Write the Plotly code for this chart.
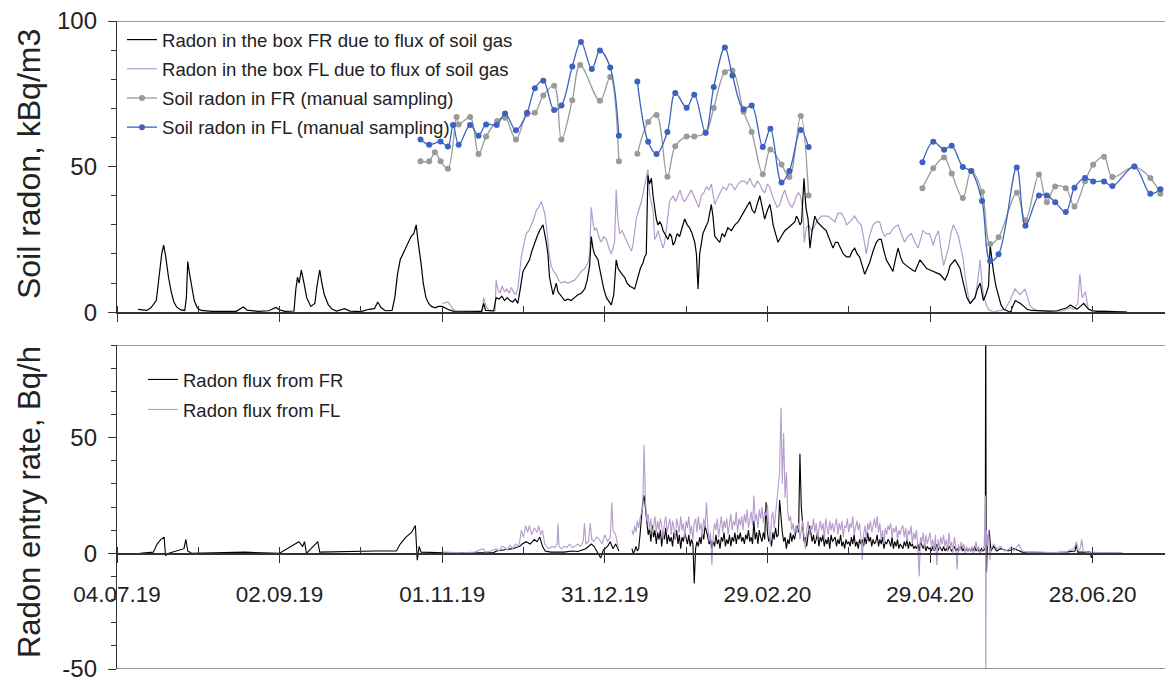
import pandas as pd
import plotly.graph_objects as go

BASE = pd.Timestamp("2019-07-04")

# ---------------- top panel: radon in the boxes (kBq/m3) ----------------
fr_box_day = [7.8, 9.5, 11, 12.5, 13.4, 14.5, 15.5, 16.5, 17.2, 18, 19, 20, 21, 22, 23.5, 25, 25.6, 26.1, 26.8, 27.6,
              28.5, 29.6, 31, 35, 40, 44, 46.6, 48, 52, 56, 58.6, 60, 62, 65.3, 66, 66.6, 67.2, 68, 69, 70,
              71.5, 73, 73.8, 74.8, 75.6, 76.5, 78, 79.5, 81, 84, 86, 90, 93, 95, 96.2, 97.5, 99, 101.5, 102.5, 103.5,
              104.5, 105.5, 106.5, 107.5, 108.5, 109.5, 110.4, 111, 111.5, 112.3, 113, 114, 115, 116, 117.5, 118.5, 120, 121, 122, 124,
              130, 134.5, 135.3, 136, 139, 139.9, 141, 142, 143, 144, 145, 146, 147, 147.9, 148.8, 149.8, 151, 152.2, 153.1, 154.1,
              155, 155.9, 156.6, 157.2, 158.4, 159, 159.6, 160.3, 160.9, 161.5, 162.1, 162.7, 163.5, 164.3, 165.2, 166.4, 167.6, 168.8, 170.1, 171.3,
              172.6, 173.5, 174.4, 175, 175.6, 176.2, 177, 177.5, 178.1, 178.7, 179.6, 180.6, 181.5, 182.4, 183.3, 184.2, 184.9, 185.5, 186.4, 187.3,
              188.2, 189.2, 190.1, 191, 191.6, 192.2, 193.1, 194.1, 194.7, 195.3, 195.9, 196.5, 197.2, 197.8, 198.4, 199, 199.6, 200.3, 200.9, 201.5,
              202.1, 202.7, 203.3, 204, 204.6, 205.2, 205.8, 206.7, 207.6, 208.5, 209.5, 210.4, 211.3, 212.2, 213.2, 213.8, 214.4, 215, 215.6, 216.2,
              217.1, 218.1, 218.7, 219.3, 219.9, 220.6, 221.5, 222.4, 223.3, 224.2, 225.4, 226.7, 228, 229.2, 230.4, 231.6, 232.5, 233.5, 234.4, 235.3,
              236.2, 237.2, 238.1, 239, 240, 240.9, 241.5, 242.1, 243, 243.9, 245.1, 246.4, 247.7, 248.9, 250.1, 250.7, 251.3, 252, 252.6, 253.5,
              254.2, 255, 255.7, 256.5, 257.5, 258.4, 259.3, 260.5, 261.7, 263, 264.2, 265.1, 266, 267, 268, 269.2, 270.4, 271.3, 272.2, 273.1,
              274, 275, 275.9, 276.8, 277.7, 279, 280.2, 281.1, 282, 283, 283.9, 285.1, 286.3, 287.2, 288.2, 289.1, 290, 291.3, 292.6, 293.5,
              294.5, 295.4, 296.3, 297.5, 298.8, 300, 301.2, 302.5, 303.7, 304.6, 305.5, 306.5, 307.4, 308.3, 309.2, 310.2, 311.1, 312.3, 313.6, 314.8,
              315.7, 316.6, 317.5, 318.5, 319.1, 319.7, 320.6, 321.6, 322.2, 322.8, 323.4, 324.3, 325.3, 326.2, 327.2, 328.5, 329.7, 330.5, 331.5, 332.4,
              333.4, 334.6, 335.8, 337.5, 339.5, 344, 347, 349.3, 350.5, 351.8, 353, 354.2, 355.5, 356.7, 357.6, 358.5, 360, 361.6, 365, 367.8, 372.7]
fr_box_val = [1.0, 0.8, 0.6, 1.5, 2.5, 4, 12, 20, 23, 19, 12, 7, 3.5, 1.8, 0.8, 0.6, 5, 17.4, 13, 8,
              4, 1.5, 0.6, 0.3, 0.4, 0.3, 1.8, 0.7, 0.3, 0.5, 1.6, 0.8, 0.3, 0.4, 8, 12, 10, 14.5, 10, 5,
              2, 3, 9, 14.5, 10, 6, 2.5, 1, 0.4, 1.2, 0.4, 0.2, 1, 1.2, 3.5, 1.5, 0.5, 0.6, 5, 13,
              18, 20, 22, 24, 26, 27, 30, 25, 22, 16, 10, 5, 3, 2, 1.5, 2, 2, 1.5, 1, 0.4,
              0.2, 0.3, 3, 0.6, 0.5, 5, 4.5, 5.5, 4, 5, 4, 3.5, 4.5, 3, 8, 14, 16, 18, 21, 24,
              26, 28, 29, 30, 24, 20, 12, 8, 6, 8, 10, 7, 6, 5, 4, 4.5, 4, 5, 6, 6.5,
              8, 11, 16, 26, 22, 20, 19, 18, 15, 12, 8, 5, 3.5, 2.5, 6, 18, 15, 14, 13, 12,
              10, 9, 8.5, 8, 10, 12, 15, 17, 19, 20, 47, 44, 46, 40, 36, 32, 30, 31, 30, 28,
              27, 26, 25, 27, 26, 23, 24, 27, 26, 29, 32, 30, 29, 27, 24, 20, 8, 20, 24, 27,
              29, 31, 34, 37, 33, 26, 25, 24, 27, 26, 29, 28, 30, 31, 33, 35, 36, 38, 35, 34,
              37, 40, 36, 32, 35, 37, 34, 30, 27, 24, 26, 28, 29, 30, 31, 33, 32, 30, 31, 46,
              36, 32, 22, 28, 33, 31, 30, 29, 28, 25, 22, 24, 24, 22, 20, 19, 19, 21, 22, 20,
              19, 16, 13, 15, 17, 21, 24, 25, 25, 21, 18, 16, 14, 18, 22, 19, 17, 16, 15, 14.5,
              14, 16, 18, 16.5, 15, 14.5, 14, 13.5, 13, 12, 11, 13, 16, 17, 18, 16.5, 15, 10, 5, 3,
              4, 5, 8, 10, 7, 4, 6, 9, 23, 18, 14, 9, 5, 2.5, 1, 0.4, 0, 2, 4, 3.5,
              3, 2, 1, 0.6, 0.5, 0.4, 0.5, 1, 1.5, 2.5, 1.8, 1, 2, 3, 2, 1, 0.5, 0.3, 0.3, 0.2, 0]

fl_box_day = [120, 121, 122.1, 123.3, 124.9, 126, 130, 134, 134.8, 135.3, 136.2, 137.3, 138.4, 139.5, 139.9, 140.5, 141.3, 142.1, 143, 143.8,
              144.6, 145.5, 146.3, 147.1, 147.9, 148.6, 149.2, 149.8, 150.4, 151, 152, 152.9, 153.8, 154.7, 155.6, 156.6, 157.2, 157.8, 158.4, 159,
              159.6, 160.2, 161.1, 162.1, 163, 163.9, 165.1, 166.4, 167.6, 168.9, 170.1, 171.3, 172.6, 173.8, 174.4, 175, 175.6, 176.2, 176.9, 177.5,
              178.1, 178.7, 179.6, 180.6, 181.5, 182.4, 183, 183.6, 184.2, 184.8, 185.5, 186.4, 187.3, 188.2, 189.2, 189.8, 190.4, 191, 191.6, 192.5,
              193.5, 194.4, 195.3, 195.9, 196.6, 197.2, 197.8, 198.4, 199, 199.6, 200.5, 201.5, 202.1, 202.7, 203.3, 203.9, 204.6, 205.2, 206.1, 207,
              207.8, 208.6, 209.5, 210.7, 211.9, 212.8, 213.8, 214.7, 215.6, 216.5, 217.5, 218.4, 219.3, 219.9, 220.6, 221.5, 222.4, 223.6, 224.9, 225.8,
              226.7, 228, 229.2, 230.4, 231.6, 232.5, 233.5, 234.4, 235.3, 236.2, 237.2, 238.1, 239, 240, 240.9, 241.8, 242.7, 243.6, 244.6, 245.5,
              246.4, 247.3, 248.2, 249.1, 250.1, 250.7, 251.5, 252.2, 253.1, 253.6, 254.4, 255.3, 256.2, 257.2, 258.1, 258.9, 259.9, 261.1, 262.4, 263.6,
              264.9, 266, 267.3, 268.5, 269.2, 270.4, 271.3, 272.2, 273.4, 274.6, 275.6, 276.5, 277.6, 279, 280.2, 281.4, 282.3, 283.3, 284.2, 285.1,
              286.6, 288.2, 289.4, 290.6, 291.8, 293.1, 294.4, 295.6, 296.5, 297.4, 298.6, 299.8, 300.5, 301.2, 302.1, 303.1, 304, 305, 305.9, 306.8,
              307.7, 308.6, 309.6, 310.5, 311.4, 312.3, 313, 313.6, 314.2, 314.8, 315.7, 316.6, 317.5, 318.5, 319.1, 319.7, 320.6, 321.6, 322.5, 323.4,
              324.3, 325.3, 326.5, 327.7, 329.5, 330.4, 331.4, 332.3, 333.2, 334.1, 335.1, 336, 337, 338.5, 340, 345, 349.3, 350.5, 351.8, 353,
              354.5, 355.3, 355.7, 356.1, 356.8, 357.4, 358, 358.5, 360, 364, 368, 370, 372.7]
fl_box_val = [3, 3.2, 3.5, 2, 0, -0.3, -0.4, -0.3, 0.2, 5, 2, 0.5, 0, 0.5, 11, 8, 6.5, 9, 7, 8,
              6.5, 8.5, 7, 6, 8, 15, 19, 22, 25, 27, 28, 30, 32, 35, 36, 38, 36, 34, 30, 24,
              19, 16, 14, 13, 11, 10, 10.5, 10, 10.5, 11, 12.5, 14, 15, 17, 20, 36, 31, 28, 29, 27,
              25, 24, 26, 25, 22, 20, 22, 24, 42, 32, 27, 28, 26, 24, 22, 21, 23, 27, 32, 35,
              38, 42, 46, 49, 40, 37, 35, 25, 26, 28, 25, 22, 24, 28, 33, 38, 39, 40, 38, 40,
              42, 39, 38, 40, 42, 40, 38, 36, 40, 41, 43, 42, 44, 41, 37, 39, 41, 43, 42, 44,
              44, 42, 44, 45, 45, 44, 46, 44, 43, 45, 44, 42, 41, 44, 43, 40, 38, 36, 37, 40,
              42, 39, 37, 36, 38, 40, 41, 40, 35, 24, 29, 30, 28, 29, 31, 32, 33, 33, 33, 32,
              31, 34, 34, 32, 30, 31, 32, 33, 31, 30, 25, 20, 26, 30, 31, 31, 28, 26, 27, 27,
              29, 30, 27, 24, 26, 27, 24, 22, 25, 28, 27, 27, 25, 23, 26, 28, 22, 16, 19, 22,
              27, 30, 28, 26, 22, 18, 12, 8, 5, 3, 4, 5, 10, 18, 11, 6, 3, 1, 0.5, 0,
              0.3, 0.5, 0.8, 1, 4, 6, 8, 7, 6, 7, 8, 5, 2, 1, 0.5, 0.3, 0.5, 1, 1.5, 1,
              3, 13, 9, 5, 6, 7, 3, 1, 0.5, 0.4, 0.5, 0.2, 0]

# ---------------- top panel: manual soil-gas sampling (kBq/m3) ----------------
fr_soil_day = [112.0, 115.2, 117.3, 119.4, 122.1, 125.3, 126.1, 130.3, 133.4, 136.2, 140.3, 143.2, 147.2, 151.3, 154.2, 157.3, 161.3, 164.0,
               168.0, 170.9, 178.2, 182.0, 185.2, None,
               192.0, 196.0, 199.1, 203.1, 206.0, 210.2, 213.0, 217.2, 220.2, 224.3, 227.1, 231.2, 234.2, 238.3, 241.1, 245.2, 248.1, 252.3, 255.2, None,
               297.2, 301.2, 305.2, 308.0, 312.1, 315.2, 319.2, 322.2, 325.3, 332.0, 335.2, 340.2, 343.1, 346.2, 350.1, 353.3, 357.2, 360.2,
               364.2, 367.3, 375.4, 381.3, 385.0]
fr_soil_val = [51.8, 51.8, 54.9, 51.8, 49.3, 67.0, 64.5, 67.0, 54.3, 60.3, 65.7, 66.8, 59.3, 68.0, 68.5, 74.4, 77.8, 59.3,
               72.8, 84.9, 72.6, 80.8, 51.8, None,
               54.4, 65.3, 67.7, 46.5, 57.0, 60.3, 60.3, 61.6, 70.1, 82.4, 83.0, 68.8, 61.9, 47.4, 55.9, 50.7, 46.4, 67.4, 40.1, None,
               42.6, 49.4, 53.1, 47.6, 39.2, 48.5, 41.3, 23.4, 25.7, 41.0, 31.6, 47.3, 37.8, 43.2, 42.6, 36.3, 45.0, 50.6,
               53.4, 46.4, 50.0, 46.1, 40.7]

fl_soil_day = [112.0, 115.2, 119.4, 122.1, 124.0, 126.1, 130.3, 133.4, 136.2, 140.1, 143.2, 147.2, 151.3, 154.2, 157.3, 161.3, 164.0,
               168.0, 171.2, 175.2, 178.2, 182.0, 185.2, None,
               192.0, 196.0, 199.1, 203.1, 206.0, 210.2, 213.0, 217.2, 220.2, 224.3, 227.1, 231.2, 234.2, 238.3, 241.1, 245.2, 248.1, 252.3, 255.2, None,
               297.2, 301.2, 305.2, 308.0, 312.1, 315.2, 319.2, 322.2, 325.3, 332.0, 335.2, 340.2, 343.1, 346.2, 350.1, 353.3, 357.2, 360.2,
               364.2, 367.3, 375.4, 381.3, 385.0]
fl_soil_val = [59.3, 57.5, 58.6, 56.9, 64.3, 57.5, 64.3, 60.6, 64.5, 64.3, 68.2, 62.5, 68.5, 76.9, 79.5, 69.4, 71.0,
               84.4, 92.8, 83.5, 89.9, 84.0, 60.6, None,
               79.2, 58.5, 54.3, 61.9, 75.3, 70.2, 74.7, 61.6, 77.3, 90.9, 81.3, 69.7, 71.0, 56.7, 63.0, 44.5, 48.5, 62.6, 56.7, None,
               51.5, 58.5, 55.8, 57.2, 49.9, 48.5, 38.2, 17.6, 19.9, 49.7, 29.7, 40.1, 40.1, 37.8, 34.4, 42.7, 46.1, 44.9,
               44.9, 43.3, 50.0, 40.7, 42.2]

# ---------------- bottom panel: radon entry rate (Bq/h) ----------------
# FR flux: early part (irregular sampling), dense part (every half day from day 190), late part
fr_flux_day_a = [8.5, 13.4, 14.8, 16.2, 17.4, 17.9, 19.1, 24.7, 25.4, 26.1, 27.5, 47.3, 60, 67.1, 68.5, 69.2, 69.9, 74.1, 74.8, 90.4,
                 95.3, 103.1, 104.5, 106.6, 108.7, 110.1, 110.8, 111.5, 112.2, 120.4, 130, 139, 140, 143, 146, 148.6, 149.5, 151, 152.5, 154,
                 155, 156, 157, 158, 160, 165, 168, 170, 173, 175, 176, 178.5, 179.5, 181, 182, 183, 184, 185.2, None]
fr_flux_val_a = [0, 0.5, 4, 6, 7, -1, 0, 2, 6, 1, 0, 0.5, 0, 5, 3, 5, 0, 5, 0.5, 1,
                 1, 1, 4, 7, 9, 12, -3, 3, 0.5, 0.2, 0.1, 0.3, 1, 1.5, 2, 3, 4, 5, 4, 6,
                 5, 7, 3, 1, 0.5, 0.5, 1, 0.8, 2, 4, 3, -2, 1.5, 3, 5, 2, 4, 1, None]
fr_flux_dense_start = 190.0
fr_flux_val_b = [2, 0, 1, 3, 1, 2, 8, 15, 22, 25,
                 20, 14, 8, 11, 5, 12, 7, 10, 4, 9,
                 6, 10, 3, 9, 6, 11, 4, 8, 5, 7,
                 3, 9, 6, 10, 4, 8, 2, 7, 5, 9,
                 7, 4, 8, 3, 6, 4, -13, 2, 5, 3,
                 7, 4, 9, 6, 12, 10, 7, 4, 6, 2,
                 5, 3, 8, 4, 6, 2, 7, 5, 9, 3,
                 6, 4, 8, 3, 7, 5, 9, 4, 8, 6,
                 9, 5, 7, 4, 8, 6, 10, 5, 7, 4,
                 14, 6, 9, 4, 10, 7, 5, 9, 6, 22,
                 9, 5, 7, 3, 9, 6, 11, 7, 8, 23,
                 14, 9, 5, 7, 2, 6, 4, 9, 5, 8,
                 6, 10, 12, 9, 43, 20, 10, 5, 7, 3,
                 8, 12, 9, 5, 8, 4, 6, 9, 3, 7,
                 5, 8, 3, 6, 4, 7, 2, 8, 5, 6,
                 7, 3, 6, 4, 8, 3, 5, 2, 6, 4,
                 5, 3, 7, 4, 8, 3, 5, 2, 6, 4,
                 6, 3, 7, 4, 9, 5, 7, 3, 6, 4,
                 5, 8, 3, 6, 4, 7, 2, 5, 4, 6,
                 5, 3, 7, 2, 5, 3, 6, 2, 4, 3,
                 2, 5, 3, 6, 2, 5, 3, 4, 2, 3,
                 2, 4, 1, 5, 3, 2, 4, 1, 3, 2,
                 2, 1, 3, 1, 2, 4, 1, 3, 2, 1,
                 3, 1, 2, 1, 3, 2, 1, 2, 3, 1,
                 2, 1, 2, 3, 1, 2, 1, 2, 1, 2,
                 1, 2, 1, 3, 1, 2, 1, 1, 2, 1]
fr_flux_day_c = [320.4, 320.55, 320.7, 320.85, 321.2, 321.8, 322.5, 323.5, 324.6, 326, 328.8, 331, 334, 338, 345, 350, 353.5, 354,
                 354.5, 356, 359, 359.6, 360.2, 365, 371]
fr_flux_val_c = [2, 120, 11, -8, 5, 10, 1, 3, 1, 2, 1, 2, 0.5, 0.3, 0.2, 0.5, 1, 4,
                 0.5, 0.5, 0.5, -2, 0.3, 0.1, 0]

# FL flux
fl_flux_day_a = [120.4, 124, 128, 132, 135, 136, 138, 140, 141, 142, 143, 144, 145, 146, 147, 148, 148.6, 149.2, 150, 150.8,
                 151.5, 152.2, 153, 154, 155, 155.6, 156.3, 157, 157.8, 158.5, 159.5, 160.5, 161.5, 162.4, 162.7, 163.1, 164, 165, 166, 167,
                 168, 169, 170, 171, 172, 172.5, 173, 174, 174.6, 175.2, 176, 177, 178, 179, 180, 181, 182, 182.6, 183, 184,
                 185, None]
fl_flux_val_a = [0.5, 0.3, 0.2, 0.5, 2, 0.5, 1, 2, 1, 3, 2.5, 1.5, 3.5, 2, 4, 3, 5, 10, 7, 12,
                 9, 12, 8, 11, 9, 12, 8, 10, 4, 3, 2, 3, 2.5, 4, 13, 3, 2, 3, 2.5, 4,
                 2.5, 3, 4, 3, 5, 13, 4, 5, 13, 6, 5, 7, 6, 4, 8, 5, 7, 22, 10, 8,
                 2, None]
fl_flux_dense_start = 190.0
fl_flux_val_b = [10, 8, 12, 9, 14, 11, 15, 18, 20, 47,
                 22, 14, 17, 10, 15, 8, 13, 16, 9, 14,
                 10, 15, 12, 6, 13, 16, 9, 12, 15, 8,
                 14, 11, 6, 15, 12, 9, 16, 10, 13, 7,
                 14, 11, 16, 8, 12, 6, 13, 15, 9, 16,
                 10, 13, 7, 15, 11, 22, 12, 5, 9, -5,
                 8, 13, 10, 15, 7, 12, 16, 9, 14, 11,
                 15, 8, 13, 17, 10, 14, 12, 18, 9, 15,
                 12, 16, 10, 17, 13, 19, 11, 15, 18, 12,
                 25, 14, 17, 11, 19, 15, 20, 13, 18, 16,
                 21, 12, 4, 15, 18, 11, 17, 20, 26, 35,
                 63, 30, 52, 24, 35, 18, 14, 16, 10, 13,
                 8, 12, 9, 13, 6, 11, 14, 7, 2, 10,
                 14, 8, 12, 10, 15, 9, 13, 7, 11, 14,
                 10, 13, 6, 15, 11, 8, 14, 10, 13, 9,
                 12, 15, 8, 13, 10, 14, 7, 12, 11, 15,
                 9, 13, 11, 16, 8, 12, 14, 10, 13, 7,
                 -3, 8, 12, 6, 13, 10, 14, 9, 12, 15,
                 11, 16, 9, 13, 6, 10, 4, 11, 8, 12,
                 10, 13, 7, 11, 9, 12, 6, 10, 8, 11,
                 12, 7, 11, 5, 10, 8, 12, 4, 9, 6,
                 10, 3, -10, 7, 5, 9, 2, 8, 4, 7,
                 9, 3, 6, 1, 8, -5, 6, 2, 7, 4,
                 8, 3, 6, 1, 9, 2, 5, 0, 7, 3,
                 -7, 4, 1, 5, 2, 4, 0, 3, 1, 2,
                 1, 3, 0, 2, 5, 1, 3, 0, 1, 2]
fl_flux_day_c = [320.0, 320.45, 320.6, 320.75, 321.3, 321.6, 322.1, 322.5, 323.5, 324.6, 326, 327.5, 328.8, 330, 331, 332.8, 334, 336,
                 341, 345, 350, 353, 353.5, 354, 354.6, 355.4, 356, 356.5, 358, 365, 371]
fl_flux_val_c = [3, 25, -60, 10, 3, 10, -3, 2, 4, 2, 3, 1, 1.5, 3, 1, 4, 1, 0.5,
                 0.5, 0.3, 0.5, 2, 3, 5, 1, 2, 6, 1, 0.5, 0.3, 0]

# ---------------- axis labels / ticks ----------------
X_START = "2019-07-04"
X_END = "2020-07-24 17:00"
TOP_YTICKS = [0, 50, 100]
TOP_YTEXT = ["0", "50", "100"]
BOT_YTICKS = [-50, 0, 50]
BOT_YTEXT = ["-50", "0", "50"]
TITLE_TOP = "Soil radon, kBq/m3"
TITLE_BOT = "Radon entry rate, Bq/h"

FONT = "Liberation Sans, Arial, Helvetica, sans-serif"
TXT = "#222222"
BLACK = "#000000"
PURPLE = "#b49ccd"
GRAY = "#9a9a9a"
BLUE = "#3d62be"


def to_dates(days):
    return [None if d is None else BASE + pd.Timedelta(days=d) for d in days]


def half_daily(start, n):
    return [start + 0.5 * i for i in range(n)]


fr_flux_day = fr_flux_day_a + half_daily(fr_flux_dense_start, len(fr_flux_val_b)) + fr_flux_day_c
fr_flux_val = fr_flux_val_a + fr_flux_val_b + fr_flux_val_c
fl_flux_day = fl_flux_day_a + half_daily(fl_flux_dense_start, len(fl_flux_val_b)) + fl_flux_day_c
fl_flux_val = fl_flux_val_a + fl_flux_val_b + fl_flux_val_c

fig = go.Figure()

# top panel traces
fig.add_trace(go.Scatter(x=to_dates(fl_box_day), y=fl_box_val, mode="lines",
                         line=dict(color=PURPLE, width=1.2), name="Radon in the box FL due to flux of soil gas",
                         xaxis="x", yaxis="y", legend="legend", legendrank=2, legendgroup="b"))
fig.add_trace(go.Scatter(x=to_dates(fr_box_day), y=fr_box_val, mode="lines",
                         line=dict(color=BLACK, width=1.2), name="Radon in the box FR due to flux of soil gas",
                         xaxis="x", yaxis="y", legend="legend", legendrank=1, legendgroup="a"))
fig.add_trace(go.Scatter(x=to_dates(fr_soil_day), y=fr_soil_val, mode="lines+markers",
                         line=dict(color=GRAY, width=1.3, shape="spline", smoothing=1.0),
                         marker=dict(color=GRAY, size=6), connectgaps=False,
                         name="Soil radon in FR (manual sampling)",
                         xaxis="x", yaxis="y", legend="legend", legendrank=3, legendgroup="c"))
fig.add_trace(go.Scatter(x=to_dates(fl_soil_day), y=fl_soil_val, mode="lines+markers",
                         line=dict(color=BLUE, width=1.3, shape="spline", smoothing=1.0),
                         marker=dict(color=BLUE, size=6), connectgaps=False,
                         name="Soil radon in FL (manual sampling)",
                         xaxis="x", yaxis="y", legend="legend", legendrank=4, legendgroup="d"))

# bottom panel traces
fig.add_trace(go.Scatter(x=to_dates(fr_flux_day), y=fr_flux_val, mode="lines",
                         line=dict(color=BLACK, width=1.1), name="Radon flux from FR",
                         xaxis="x2", yaxis="y2", legend="legend2", legendrank=1, legendgroup="e"))
fig.add_trace(go.Scatter(x=to_dates(fl_flux_day), y=fl_flux_val, mode="lines",
                         line=dict(color=PURPLE, width=1.1), name="Radon flux from FL",
                         xaxis="x2", yaxis="y2", legend="legend2", legendrank=2, legendgroup="f"))

W, H = 1165, 682
ML, MR, MT, MB = 117, 0, 21, 9
PH = H - MT - MB


def py(pix):
    return (H - MB - pix) / PH


def px(pix):
    return (pix - ML) / (W - ML - MR)


xcommon = dict(
    type="date", range=[X_START, X_END], showgrid=False, zeroline=False,
    showline=True, linecolor="#333333", linewidth=1.6,
    tick0=X_START, dtick=60 * 86400000, ticks="outside", ticklen=8, tickwidth=1.3, tickcolor="#333333",
    minor=dict(dtick=30 * 86400000, tick0=X_START, ticks="inside", ticklen=6, tickwidth=1.2, tickcolor="#333333", showgrid=False),
)

fig.update_layout(
    width=W, height=H, autosize=False,
    margin=dict(l=ML, r=MR, t=MT, b=MB, pad=0),
    paper_bgcolor="white", plot_bgcolor="white",
    font=dict(family=FONT, color=TXT),
    showlegend=True,
    xaxis=dict(**xcommon, anchor="y", domain=[0, 1], showticklabels=False),
    yaxis=dict(domain=[py(314), 1], range=[0, 100], tickmode="array", tickvals=TOP_YTICKS, ticktext=TOP_YTEXT,
               showgrid=False, zeroline=False,
               showline=True, linecolor="#333333", linewidth=1.4,
               ticks="outside", ticklen=8, tickwidth=1.3, tickcolor="#333333",
               minor=dict(dtick=10, ticks="outside", ticklen=5, tickwidth=1.2, tickcolor="#333333", showgrid=False),
               tickfont=dict(size=24, family=FONT, color=TXT), ticklabelstandoff=6, ticklabeloverflow="allow"),
    xaxis2=dict(**xcommon, anchor="free", position=py(557), domain=[0, 1],
                showticklabels=True, tickformat="%d.%m.%y",
                tickfont=dict(size=22.5, family=FONT, color=TXT), ticklabelstandoff=12),
    yaxis2=dict(domain=[0, py(347)], range=[-50, 90], tickmode="array", tickvals=BOT_YTICKS, ticktext=BOT_YTEXT,
                showgrid=False, zeroline=False,
                showline=True, linecolor="#333333", linewidth=1.4,
                ticks="outside", ticklen=8, tickwidth=1.3, tickcolor="#333333",
                minor=dict(dtick=10, tick0=0, ticks="outside", ticklen=5, tickwidth=1.2, tickcolor="#333333", showgrid=False),
                tickfont=dict(size=24, family=FONT, color=TXT), ticklabelstandoff=6, ticklabeloverflow="allow"),
    legend=dict(x=px(122), y=py(21), xanchor="left", yanchor="top", bgcolor="rgba(0,0,0,0)",
                font=dict(size=18.6, family=FONT, color=TXT), tracegroupgap=2, itemwidth=30,
                traceorder="grouped"),
    legend2=dict(x=px(143), y=py(363), xanchor="left", yanchor="top", bgcolor="rgba(0,0,0,0)",
                 font=dict(size=18.5, family=FONT, color=TXT), tracegroupgap=3, itemwidth=30,
                 traceorder="grouped"),
    shapes=[
        dict(type="line", xref="paper", yref="y", x0=0, x1=1, y0=100, y1=100,
             line=dict(color="#777777", width=1.5)),
        dict(type="line", xref="paper", yref="y2", x0=0, x1=1, y0=90, y1=90,
             line=dict(color="#777777", width=1.5)),
        dict(type="line", xref="paper", yref="y2", x0=0, x1=1, y0=-50, y1=-50,
             line=dict(color="#777777", width=1.5)),
    ],
    annotations=[
        dict(text=TITLE_TOP, x=px(29), y=py(165), xref="paper", yref="paper", showarrow=False,
             textangle=-90, xanchor="center", yanchor="middle", font=dict(size=32, family=FONT, color=TXT)),
        dict(text=TITLE_BOT, x=px(29), y=py(505), xref="paper", yref="paper", showarrow=False,
             textangle=-90, xanchor="center", yanchor="middle", font=dict(size=31, family=FONT, color=TXT)),
    ],
)

fig.write_html("out.html")
